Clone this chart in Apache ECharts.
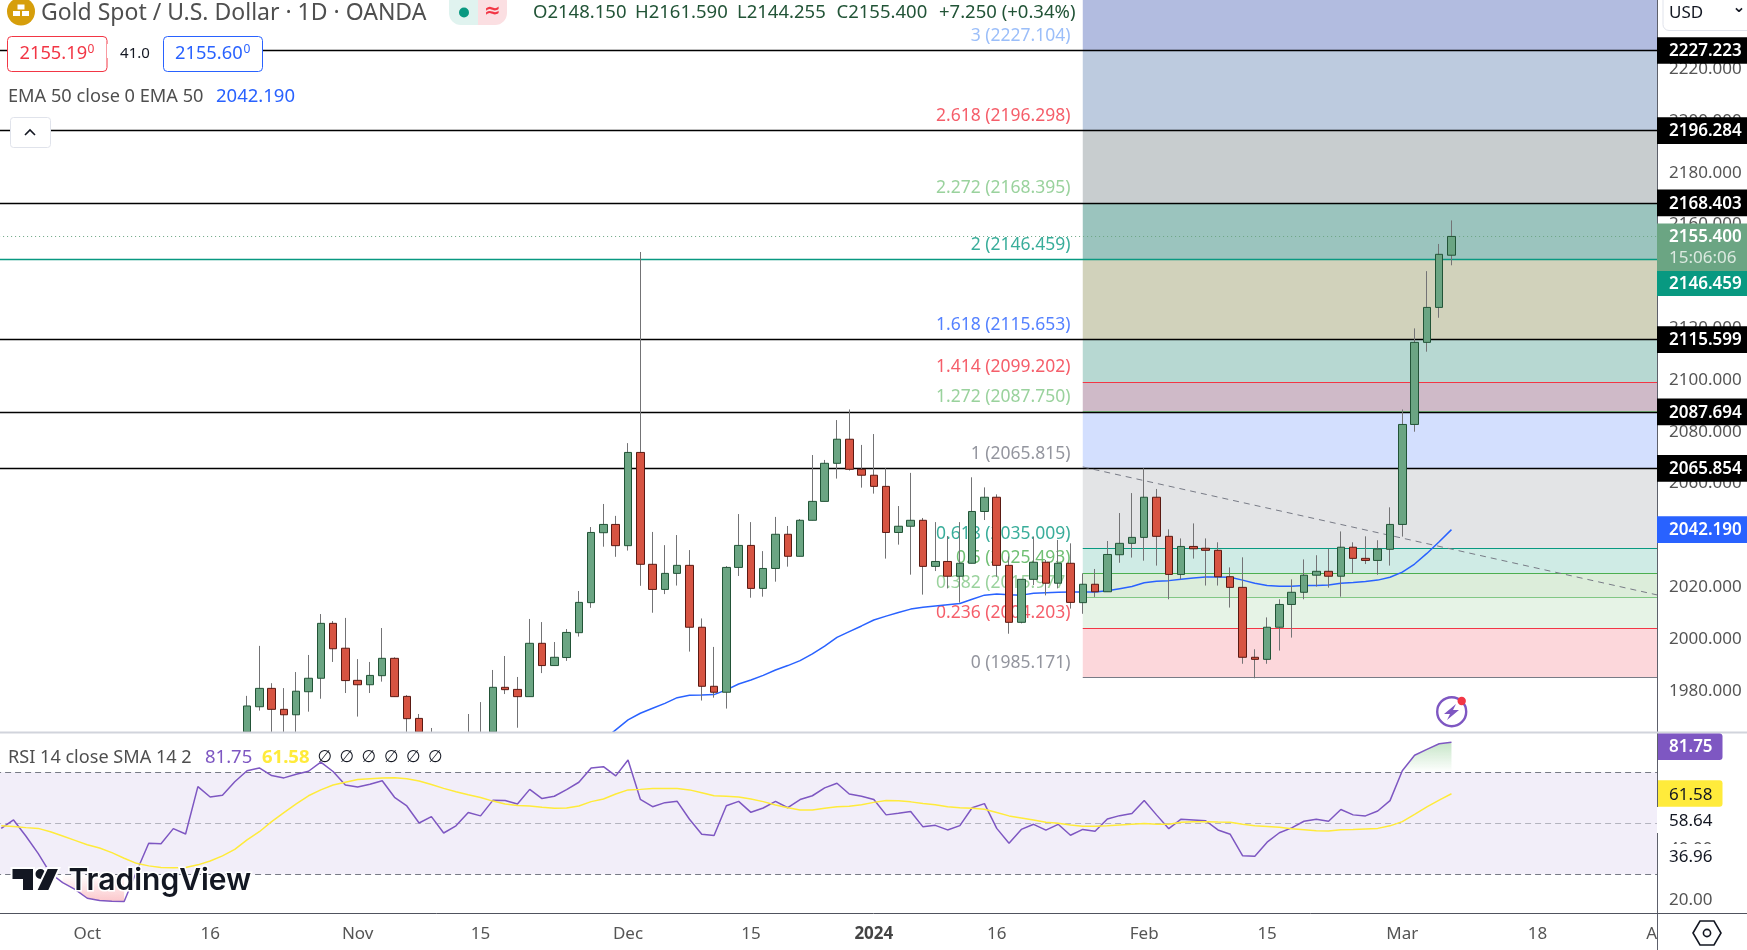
<!DOCTYPE html>
<html>
<head>
<meta charset="utf-8">
<title>Gold Spot / U.S. Dollar</title>
<script src="https://cdn.jsdelivr.net/npm/echarts@6/dist/echarts.min.js"></script>
<style>
html, body { margin: 0; padding: 0; background: #fff; }
#main { width: 1747px; height: 950px; }
</style>
</head>
<body>
<div id="main"></div>
<script>
// trading sessions on the time axis
var sessions = [
  '09-21','09-22','09-25','09-26','09-27','09-28','09-29',
  '10-02','10-03','10-04','10-05','10-06','10-09','10-10','10-11','10-12','10-13','10-16','10-17','10-18','10-19','10-20','10-23','10-24','10-25','10-26','10-27','10-30','10-31',
  '11-01','11-02','11-03','11-06','11-07','11-08','11-09','11-10','11-13','11-14','11-15','11-16','11-17','11-20','11-21','11-22','11-23','11-24','11-27','11-28','11-29','11-30',
  '12-01','12-04','12-05','12-06','12-07','12-08','12-11','12-12','12-13','12-14','12-15','12-18','12-19','12-20','12-21','12-22','12-26','12-27','12-28','12-29',
  '01-02','01-03','01-04','01-05','01-08','01-09','01-10','01-11','01-12','01-15','01-16','01-17','01-18','01-19','01-22','01-23','01-24','01-25','01-26','01-29','01-30','01-31',
  '02-01','02-02','02-05','02-06','02-07','02-08','02-09','02-12','02-13','02-14','02-15','02-16','02-19','02-20','02-21','02-22','02-23','02-26','02-27','02-28','02-29',
  '03-01','03-04','03-05','03-06','03-07','03-08','03-11','03-12','03-13','03-14','03-15','03-18','03-19','03-20','03-21','03-22','03-25','03-26','03-27','03-28','03-29',
  '04-01'
];
var tickDates = ['10-02','10-16','11-01','11-15','12-01','12-15','01-02','01-16','02-01','02-15','03-01','03-18','04-01'];
var tickTexts = ['Oct','16','Nov','15','Dec','15','2024','16','Feb','15','Mar','18','Apr'];
var priceTicks = [1980,2000,2020,2040,2060,2080,2100,2120,2140,2160,2180,2200,2220];
var rsiTicks = [20,40,60,80];

// daily candles, first one is session 20 (10-19)
var firstCandle = 20;
var opens = [
  1958,1973.8,1980.9,1972.8,1970.7,1979.6,1984.8,2006.0,1996.4,1984.0,
  1982.3,1985.8,1992.5,1977.8,1969.3,1958,1955,1957,1950,1958,
  1955,1981.3,1980.5,1977.7,1998.3,1989.7,1992.8,2002.4,2014.0,2041.0,
  2044.2,2036.0,2072.0,2028.8,2019.1,2025.3,2028.4,2004.5,1981.7,1979.4,
  2027.6,2036.1,2019.5,2027.2,2040.4,2031.9,2045.8,2053.1,2067.8,2077.1,
  2065.5,2063.2,2058.9,2041.1,2043.5,2045.8,2028.0,2029.9,2024.2,2029.2,
  2049.2,2054.7,2028.4,2006.4,2023.0,2029.6,2021.5,2029.2,2014.0,2021.1,
  2018.2,2032.5,2036.9,2039.2,2054.7,2039.6,2024.9,2035.7,2035.0,2034.2,
  2024.0,2019.9,1992.9,1992.1,2004.5,2013.3,2018.0,2024.6,2026.1,2024.2,
  2035.4,2031.1,2030.3,2034.6,2044.2,2082.8,2114.5,2128.0,2148.15
];
var closes = [
  1974.1,1980.9,1972.8,1970.7,1979.8,1984.8,2006.0,1996.2,1983.9,1982.3,
  1985.9,1992.5,1977.7,1969.2,1958,1955,1957,1950,1958,1955,
  1981.3,1980.4,1977.7,1998.3,1989.7,1992.9,2002.5,2014.1,2041.1,2044.2,
  2036.0,2072.0,2028.8,2019.1,2025.3,2028.4,2004.5,1981.7,1979.4,2027.6,
  2036.1,2019.5,2027.2,2040.4,2031.9,2045.8,2053.1,2067.8,2077.1,2065.5,
  2063.2,2058.9,2041.1,2043.5,2045.8,2028.0,2029.9,2024.2,2029.2,2049.2,
  2054.7,2028.4,2006.4,2023.0,2029.6,2021.5,2029.2,2014.1,2021.1,2018.2,
  2032.6,2036.9,2039.2,2054.7,2039.6,2024.9,2035.7,2034.8,2034.2,2024.0,
  2019.9,1992.9,1992.1,2004.5,2013.3,2018.0,2024.6,2026.1,2024.2,2035.4,
  2031.1,2030.3,2034.7,2044.2,2082.8,2114.5,2128.0,2148.5,2155.4
];
var lows = [
  1954,1972.3,1960,1958,1958,1971.9,1976.9,1991.1,1979.1,1970.0,
  1979.1,1983.5,1977.7,1960,1954,1950,1951,1948,1947,1950,
  1952,1978.7,1965.7,1977.7,1986.8,1989.7,1991.5,2000.9,2012.0,2035.6,
  2031.7,2034.1,2020.5,2010.1,2017.3,2020.6,1995.1,1976.2,1977.3,1973.1,
  2024.3,2015.9,2016.3,2022.1,2027.9,2031.9,2045.8,2053.1,2061.9,2065.0,
  2058.4,2056.1,2031.0,2036.4,2024.8,2017.1,2026.2,2019.5,2014.0,2029.2,
  2045.9,2024.0,2002.0,2006.0,2020.8,2016.8,2019.5,2011.7,2009.7,2016.2,
  2018.2,2029.4,2031.4,2030.2,2028.3,2015.3,2023.0,2031.0,2020.6,2020.6,
  2012.1,1990.4,1984.8,1990.4,1995.5,2000.5,2015.3,2020.2,2019.8,2016.3,
  2025.3,2028.9,2024.8,2028.3,2039.5,2080.0,2110.9,2124.0,2144.255
];
var highs = [
  1978,1997.3,1982.9,1981.0,1987.2,1993.8,2009.6,2006.9,2008.1,1992.2,
  1991.1,2004.2,1992.9,1978.3,1971.0,1965.6,1962,1961,1971.0,1975.6,
  1988.0,1993.4,1985.3,2007.7,2006.5,1998.8,2003.8,2018.5,2043.2,2052.1,
  2047.5,2075.6,2149.4,2041.3,2036.2,2040.1,2034.3,2007.9,1996.9,2028.1,
  2048.2,2045.1,2033.9,2047.1,2043.6,2046.3,2071.0,2069.1,2084.5,2088.6,
  2074.9,2079.1,2065.9,2051.3,2064.1,2046.7,2045.1,2039.7,2045.1,2062.4,
  2058.5,2055.8,2031.8,2023.0,2039.5,2030.5,2038.2,2036.9,2025.3,2027.0,
  2037.8,2048.6,2056.3,2065.9,2057.9,2042.3,2038.8,2044.6,2038.8,2037.3,
  2027.6,2031.5,1996.0,2008.3,2015.3,2023.0,2030.7,2032.3,2034.8,2041.5,
  2037.3,2039.6,2038.1,2050.8,2088.6,2119.9,2142.0,2152.5,2161.59
];

// EMA 50, first point is session 49
var firstEma = 49;
var emaValues = [
  1961,1964.9,1968.7,1971.3,1973.2,1975.1,1977.3,1978.2,1978.3,1978.5,
  1980.3,1982.6,1984.1,1985.9,1988.0,1989.7,1991.6,1994.2,1997.2,2000.6,
  2002.8,2005.0,2007.3,2008.8,2010.2,2011.5,2012.2,2012.7,2013.2,2013.7,
  2015.3,2016.9,2017.3,2017.0,2016.9,2017.6,2017.8,2018.0,2018.1,2018.1,
  2018.1,2018.6,2019.4,2020.2,2021.7,2022.3,2022.5,2023.0,2023.5,2023.9,
  2023.9,2023.8,2022.7,2021.5,2020.6,2020.3,2020.3,2020.6,2020.6,2020.8,
  2021.5,2021.8,2022.2,2022.7,2023.8,2025.8,2028.9,2033.0,2037.5,2042.19
];

// RSI pane, both from session 0
var rsiValues = [
  48.0,51.3,45.0,38.2,30.4,26.7,24.1,20.6,19.7,19.4,
  19.3,31.0,42.2,42.0,47.9,45.8,64.4,60.3,61.0,66.3,
  70.6,71.7,68.7,67.8,69.2,70.4,74.0,70.3,65.0,64.2,
  65.3,66.7,60.2,56.8,50.1,52.6,46.2,49.0,54.2,52.9,
  59.0,58.9,57.6,63.3,59.7,60.6,63.2,66.1,71.7,72.2,
  68.6,74.8,59.4,56.5,58.1,58.6,51.6,45.7,45.2,56.9,
  58.6,54.3,56.0,58.6,56.1,59.3,60.8,63.9,65.7,61.5,
  60.6,59.3,53.3,53.9,54.6,48.6,49.2,47.4,49.1,56.1,
  57.7,48.0,42.2,47.6,49.6,47.3,49.6,45.3,47.6,46.9,
  51.7,53.0,53.8,58.9,53.3,47.9,51.6,51.3,51.0,47.4,
  45.7,37.3,37.1,42.6,46.3,48.2,50.8,51.6,50.8,55.4,
  53.3,52.9,54.8,58.9,70.6,76.7,79.0,81.2,81.75
];
var rsiSma = [
  49.0,48.7,48.3,48.0,46.7,45.0,43.3,41.6,40.3,38.5,
  36.3,34.3,33.3,32.7,32.6,32.7,33.7,35.2,37.2,39.8,
  43.5,46.7,50.65,54.2,57.6,60.8,63.1,65.0,66.1,67.2,
  67.5,67.8,67.9,67.5,66.6,65.2,63.7,62.4,61.2,60.1,
  58.7,57.6,57.0,56.8,56.3,55.9,56.0,56.8,58.5,59.5,
  61.5,63.1,63.3,63.6,63.6,63.6,63.1,62.0,60.8,60.6,
  60.3,59.5,58.5,57.2,56.1,55.2,55.2,55.9,56.5,56.7,
  57.3,58.2,58.9,58.8,58.4,57.8,57.3,56.5,56.1,55.9,
  55.5,54.2,52.9,52.1,51.3,50.4,50.0,49.3,48.8,48.8,
  49.0,49.3,49.6,49.9,49.6,49.6,50.4,50.65,50.65,50.5,
  50.4,49.6,49.0,48.7,48.4,47.9,47.5,47.1,47.0,47.5,
  47.6,47.8,48.0,49.0,50.65,53.5,56.4,59.1,61.58
];

// fibonacci retracement
var fibLevels = ['0','0.236','0.382','0.5','0.618','1','1.272','1.414','1.618','2','2.272','2.618','3'];
var fibPrices = [1985.171,2004.203,2015.977,2025.493,2035.009,2065.815,2087.750,2099.202,2115.653,2146.459,2168.395,2196.298,2227.104];
var fibColors = ['#787b86','#f23645','#81c784','#4caf50','#089981','#787b86','#81c784','#f23645','#2962ff','#089981','#81c784','#f23645','#82aef8'];
var zoneColors = ['#fcd7db','#e6f3e6','#dcedda','#cfebe5','#e3e4e6','#d3dffe','#cfbac8','#b7d8d2','#d1d2bb','#9bc4be','#c8cdcf','#bdcbdf','#b2bce0'];
var fibStart = '01-25', fibLabelAt = '01-24', axisEnd = '04-01';

// horizontal lines and the tags on the price scale
var blackLines = [2227.223,2196.284,2168.403,2115.599,2087.694,2065.854];
var tealLine = 2146.459, lastClose = 2155.4, lastEma = 2042.19;
var trendFrom = 2066.4, trendTo = 2016.7;
var rsiLast = 81.75, smaLast = 61.58, rsiMid = 58.64, rsiLow = 36.96;
var ohlcTexts = ['O2148.150', 'H2161.590', 'L2144.255', 'C2155.400', '+7.250 (+0.34%)'];

var FONT = '"Noto Sans"';
var priceMin = 1964.05, priceMax = 2246.7;
var rsiMin = 14.82, rsiMax = 85.8;

var chart = echarts.init(document.getElementById('main'), null, { renderer: 'canvas' });

function pad(n, arr) {
  var out = [];
  for (var i = 0; i < n; i++) out.push(null);
  return out.concat(arr);
}
// candlestick does not cut a bar at the pane edge, so hold it at the scale minimum
function floorAt(v) { return Math.max(v, priceMin); }

// wick series keeps the real range, body series only open/close
var wickData = [], bodyData = [];
for (var i = 0; i < firstCandle; i++) {
  wickData.push(['-', '-', '-', '-']);
  bodyData.push(['-', '-', '-', '-']);
}
for (var j = 0; j < opens.length; j++) {
  var o = floorAt(opens[j]), c = floorAt(closes[j]);
  if (highs[j] < priceMin) {
    wickData.push(['-', '-', '-', '-']);
  } else {
    wickData.push([o, c, floorAt(lows[j]), highs[j]]);
  }
  if (Math.max(opens[j], closes[j]) < priceMin) {
    bodyData.push(['-', '-', '-', '-']);
  } else {
    bodyData.push([o, c, Math.min(o, c), Math.max(o, c)]);
  }
}

var zoneData = [], fibLineData = [], fibLabelData = [];
for (var k = 0; k < fibPrices.length; k++) {
  var upper = k < fibPrices.length - 1 ? fibPrices[k + 1] : priceMax;
  zoneData.push([
    { xAxis: fibStart, yAxis: fibPrices[k], itemStyle: { color: zoneColors[k], opacity: 1 } },
    { xAxis: axisEnd, yAxis: upper }
  ]);
  fibLineData.push([
    { xAxis: fibStart, yAxis: fibPrices[k], lineStyle: { color: fibColors[k], width: 1.1, type: 'solid', opacity: 1 } },
    { xAxis: axisEnd, yAxis: fibPrices[k] }
  ]);
  fibLabelData.push({
    value: [fibLabelAt, fibPrices[k]],
    label: { color: fibColors[k], formatter: fibLevels[k] + ' (' + fibPrices[k].toFixed(3) + ')' }
  });
}

var lineData = [];
for (var b = 0; b < blackLines.length; b++) {
  lineData.push({ yAxis: blackLines[b], lineStyle: { color: '#000', width: 1.3, type: 'solid' } });
}
lineData.push({ yAxis: tealLine, lineStyle: { color: '#089981', width: 1.3, type: 'solid' } });
lineData.push({ yAxis: lastClose, lineStyle: { color: '#6ba583', width: 1, type: [1, 3] } });
lineData.push([
  { xAxis: fibStart, yAxis: trendFrom, lineStyle: { color: '#787b86', width: 1, type: [6, 5] } },
  { xAxis: axisEnd, yAxis: trendTo }
]);

var option = {
  animation: false,
  textStyle: { fontFamily: FONT },
  grid: [
    { left: -4.9, top: 0, width: 1671.44, height: 732, outerBoundsMode: 'none' },
    { left: -4.9, top: 732, width: 1671.44, height: 181, outerBoundsMode: 'none' }
  ],
  xAxis: [
    { type: 'category', gridIndex: 0, data: sessions, show: false },
    {
      type: 'category', gridIndex: 1, data: sessions,
      axisLine: { show: false }, axisTick: { show: false }, splitLine: { show: false },
      axisLabel: {
        margin: 13, fontSize: 17, color: '#555', fontFamily: FONT,
        interval: function (index, value) { return tickDates.indexOf(value) >= 0; },
        formatter: function (value) {
          var text = tickTexts[tickDates.indexOf(value)];
          return text === '2024' ? '{b|' + text + '}' : text;
        },
        rich: { b: { fontSize: 17, color: '#444', fontWeight: 'bold', fontFamily: FONT } }
      }
    }
  ],
  yAxis: [
    {
      type: 'value', gridIndex: 0, position: 'right', offset: -9.54, min: priceMin, max: priceMax, z: 40,
      axisLine: { show: false }, axisTick: { show: false }, splitLine: { show: false },
      axisLabel: {
        margin: 12, fontSize: 17, color: '#555', fontFamily: FONT, customValues: priceTicks, padding: [2, 0, 0, 0],
        formatter: function (v) { return v.toFixed(3); }
      }
    },
    {
      type: 'value', gridIndex: 1, position: 'right', offset: -9.54, min: rsiMin, max: rsiMax, z: 40,
      axisLine: { show: false }, axisTick: { show: false }, splitLine: { show: false },
      axisLabel: {
        margin: 12, fontSize: 17, color: '#555', fontFamily: FONT, customValues: rsiTicks, padding: [2, 0, 0, 0],
        formatter: function (v) { return v.toFixed(2); }
      }
    }
  ],
  series: [
    {
      name: 'fib', type: 'scatter', xAxisIndex: 0, yAxisIndex: 0, z: 1, symbolSize: 0, silent: true,
      data: fibLabelData,
      label: { show: true, position: 'left', distance: 0, offset: [0, -14.5], fontSize: 17.5, fontFamily: FONT },
      markArea: { silent: true, z: 1, data: zoneData }
    },
    {
      name: 'levels', type: 'line', xAxisIndex: 0, yAxisIndex: 0, z: 2, data: [], silent: true,
      markLine: { silent: true, z: 2, symbol: 'none', label: { show: false }, data: fibLineData.concat(lineData) }
    },
    {
      name: 'EMA 50', type: 'line', xAxisIndex: 0, yAxisIndex: 0, z: 3, silent: true,
      data: pad(firstEma, emaValues), showSymbol: false, lineStyle: { color: '#2962ff', width: 1.5 }
    },
    {
      name: 'wick', type: 'candlestick', xAxisIndex: 0, yAxisIndex: 0, z: 4, silent: true, barWidth: 1,
      data: wickData,
      itemStyle: { color: '#737375', color0: '#737375', borderColor: '#737375', borderColor0: '#737375', borderWidth: 1 }
    },
    {
      name: 'candle', type: 'candlestick', xAxisIndex: 0, yAxisIndex: 0, z: 5, silent: true, barWidth: 8,
      data: bodyData,
      itemStyle: { color: '#6ba583', color0: '#d75442', borderColor: '#225437', borderColor0: '#5b1a13', borderWidth: 1 }
    },
    {
      name: 'RSI', type: 'line', xAxisIndex: 1, yAxisIndex: 1, z: 3, silent: true,
      data: rsiValues, showSymbol: false, lineStyle: { color: '#7e57c2', width: 1.5 },
      markArea: { silent: true, z: 1, itemStyle: { color: 'rgba(126,87,194,0.1)' }, data: [[{ yAxis: 30 }, { yAxis: 70 }]] },
      markLine: {
        silent: true, z: 2, symbol: 'none', label: { show: false },
        lineStyle: { color: '#787b86', width: 1, type: [6, 4] },
        data: [
          { yAxis: 70 },
          { yAxis: 50, lineStyle: { color: 'rgba(120,123,134,0.5)', width: 1, type: [6, 4] } },
          { yAxis: 30 }
        ]
      }
    },
    {
      name: 'RSI SMA', type: 'line', xAxisIndex: 1, yAxisIndex: 1, z: 3, silent: true,
      data: rsiSma, showSymbol: false, lineStyle: { color: '#ffeb3b', width: 1.5 }
    },
    {
      name: 'overbought', type: 'line', xAxisIndex: 1, yAxisIndex: 1, z: 2, silent: true, showSymbol: false,
      data: pad(114, rsiValues.slice(114)), lineStyle: { width: 0 },
      areaStyle: {
        origin: 70,
        color: new echarts.graphic.LinearGradient(0, 0, 0, 1, [
          { offset: 0, color: 'rgba(76,175,80,0.45)' }, { offset: 1, color: 'rgba(76,175,80,0)' }
        ])
      }
    },
    {
      name: 'oversold', type: 'line', xAxisIndex: 1, yAxisIndex: 1, z: 2, silent: true, showSymbol: false,
      data: pad(5, rsiValues.slice(5, 11)), lineStyle: { width: 0 },
      areaStyle: {
        origin: 30,
        color: new echarts.graphic.LinearGradient(0, 1, 0, 0, [
          { offset: 0, color: 'rgba(242,54,69,0.4)' }, { offset: 1, color: 'rgba(242,54,69,0)' }
        ])
      }
    }
  ]
};
chart.setOption(option);

// chrome around the chart: header, price tags, logo
function box(x, y, w, h, fill, z, stroke, r) {
  return {
    type: 'rect', z: z, silent: true,
    shape: { x: x, y: y, width: w, height: h, r: r || 0 },
    style: { fill: fill, stroke: stroke || null, lineWidth: stroke ? 1 : 0 }
  };
}
function label(text, x, y, size, fill, z, align, weight, family) {
  return {
    type: 'text', z: z, silent: true, x: x, y: y,
    style: {
      text: text, fill: fill, textAlign: align || 'left', textVerticalAlign: 'middle',
      font: (weight || 'normal') + ' ' + size + 'px ' + (family || FONT)
    }
  };
}
function rule(x1, y1, x2, y2, color, width, z) {
  return {
    type: 'line', z: z, silent: true,
    shape: { x1: x1, y1: y1, x2: x2, y2: y2 },
    style: { stroke: color, lineWidth: width }
  };
}
function priceY(v) { return chart.convertToPixel({ yAxisIndex: 0 }, v); }
function rsiY(v) { return chart.convertToPixel({ yAxisIndex: 1 }, v); }

var items = [];
// price scale background and pane borders
items.push(box(1657, 0, 90, 950, '#fff', 30));
items.push(rule(1657.5, 0, 1657.5, 950, '#5d606b', 1, 35));
items.push(rule(0, 732.5, 1747, 732.5, '#d1d4dc', 2, 36));
items.push(rule(0, 913.5, 1747, 913.5, '#50535e', 1, 36));

// price tags
blackLines.forEach(function (v) {
  var y = priceY(v);
  items.push(box(1657, y - 13.3, 90, 26.7, '#000', 50));
  items.push(label(v.toFixed(3), 1669, y + 1, 17, '#fff', 51, 'left', '600'));
});
var lastY = priceY(lastClose);
items.push(box(1657, lastY - 13, 90, 48, '#6ba583', 50));
items.push(label(lastClose.toFixed(3), 1669, lastY + 1, 17, '#fff', 51, 'left', '600'));
items.push(label('15:06:06', 1669, lastY + 22, 17, '#dbe9e0', 51));
items.push(box(1657, 271, 90, 25, '#089981', 50));
items.push(label(tealLine.toFixed(3), 1669, 284, 17, '#fff', 51, 'left', '600'));
items.push(box(1657, priceY(lastEma) - 13.3, 90, 26.7, '#2962ff', 50));
items.push(label(lastEma.toFixed(3), 1669, priceY(lastEma) + 1, 17, '#fff', 51, 'left', '600'));

// RSI tags
items.push(box(1658, 733.5, 64.5, 26.5, '#7e57c2', 50, null, [0, 3, 3, 0]));
items.push(label(rsiLast.toFixed(2), 1669, 747.5, 17, '#fff', 51, 'left', '600'));
items.push(box(1658, rsiY(smaLast) - 13.4, 64.5, 26.5, '#ffeb3b', 50, null, [0, 3, 3, 0]));
items.push(label(smaLast.toFixed(2), 1669, rsiY(smaLast) + 1, 17, '#131722', 51));
items.push(box(1657, 807, 65, 26, '#fff', 50));
items.push(label(rsiMid.toFixed(2), 1669, 821, 17, '#131722', 51));
items.push(box(1658, 844, 64.5, 26, '#fff', 50));
items.push(label(rsiLow.toFixed(2), 1669, rsiY(rsiLow) + 1, 17, '#131722', 51));

// currency box and settings icon
items.push(box(1663, -8, 92, 38.5, '#fff', 60, '#e0e3eb', 6));
items.push(label('USD', 1669, 13, 17, '#131722', 61));
items.push(label('\u2304', 1739, 8, 16, '#131722', 61, 'center', 'bold', '"DejaVu Sans"'));
items.push({
  type: 'polygon', z: 60, silent: true,
  shape: { points: [[1693, 933], [1700, 921], [1714, 921], [1721, 933], [1714, 945], [1700, 945]] },
  style: { fill: '#fff', stroke: '#131722', lineWidth: 1.6 }
});
items.push({
  type: 'circle', z: 61, silent: true, shape: { cx: 1707, cy: 933, r: 3.6 },
  style: { fill: '#fff', stroke: '#131722', lineWidth: 1.6 }
});

// header, gold icon
items.push({ type: 'circle', z: 60, silent: true, shape: { cx: 21, cy: 11.5, r: 14 }, style: { fill: '#d69e0b' } });
items.push(box(17.5, 4.5, 7, 5, '#fff', 61));
items.push(box(13, 11, 7, 5, '#fff', 61));
items.push(box(22, 11, 7, 5, '#fff', 61));
items.push(label('Gold Spot / U.S. Dollar \u00b7 1D \u00b7 OANDA', 41, 13, 23, '#4f4f4f', 60));
// status pill
items.push(box(449, -10, 29, 35, '#e0f3ef', 60, null, [12, 0, 0, 12]));
items.push(box(478, -10, 29, 35, '#fbdfe2', 60, null, [0, 12, 12, 0]));
items.push({ type: 'circle', z: 61, silent: true, shape: { cx: 464, cy: 12.5, r: 5 }, style: { fill: '#089981' } });
items.push(label('\u2248', 492.5, 12, 20, '#f23645', 61, 'center', 'bold', '"DejaVu Sans"'));
[533, 635, 737, 836.5, 939].forEach(function (x, n) {
  items.push(label(ohlcTexts[n], x, 13, 18.5, '#225437', 60));
});

// bid / ask
items.push(box(7.5, 36.5, 99.5, 35, '#fff', 60, '#f23645', 4));
items.push(label('2155.19', 19.5, 54, 18.3, '#f23645', 61));
items.push(label('0', 87.5, 50, 12, '#f23645', 61));
items.push(box(107, 44, 57, 14, '#fff', 60));
items.push(label('41.0', 135, 54, 15, '#131722', 61, 'center'));
items.push(box(163.5, 36.5, 99, 35, '#fff', 60, '#2962ff', 4));
items.push(label('2155.60', 175, 54, 18.3, '#2962ff', 61));
items.push(label('0', 243.5, 50, 12, '#2962ff', 61));
items.push(label('EMA 50 close 0 EMA 50', 8, 96.5, 18.2, '#4f4f4f', 60));
items.push(label(lastEma.toFixed(3), 216, 96.5, 18.5, '#2962ff', 60));
items.push(box(10.5, 117.5, 40, 30, '#fff', 60, '#e0e3eb', 3));
items.push({
  type: 'polyline', z: 61, silent: true,
  shape: { points: [[25, 135], [30, 130], [35, 135]] },
  style: { fill: null, stroke: '#131722', lineWidth: 1.6 }
});

// RSI legend
items.push(label('RSI 14 close SMA 14 2', 8, 758, 18.1, '#4f4f4f', 60));
items.push(label(rsiLast.toFixed(2), 205, 758, 18.5, '#7e57c2', 60));
items.push(label(smaLast.toFixed(2), 262, 758, 18.5, '#ffeb3b', 60, 'left', 'bold'));
[325, 347, 369, 391.5, 413.5, 435.5].forEach(function (x) {
  items.push(label('\u2205', x, 758, 17, '#131722', 60, 'center', 'normal', '"DejaVu Sans"'));
});

// TradingView logo
var logoZ = 62;
items.push({
  type: 'polygon', z: logoZ, silent: true,
  shape: { points: [[11.5, 868], [34, 868], [34, 891], [22, 891], [22, 880], [11.5, 880]] },
  style: { fill: '#131722', stroke: '#fff', lineWidth: 2 }
});
items.push({
  type: 'circle', z: logoZ, silent: true, shape: { cx: 40.5, cy: 874, r: 6 },
  style: { fill: '#131722', stroke: '#fff', lineWidth: 2 }
});
items.push({
  type: 'polygon', z: logoZ, silent: true,
  shape: { points: [[47, 868], [59.5, 868], [49, 891], [36, 891]] },
  style: { fill: '#131722', stroke: '#fff', lineWidth: 2 }
});
items.push({
  type: 'text', z: logoZ, silent: true, x: 68.5, y: 881,
  style: {
    text: 'TradingView', fill: '#131722', stroke: '#fff', lineWidth: 3, textAlign: 'left', textVerticalAlign: 'middle',
    font: '600 30px Inter'
  }
});

// flash icon on the last bar
items.push({
  type: 'circle', z: 40, silent: true, shape: { cx: 1451.7, cy: 711.7, r: 14.5 },
  style: { fill: '#fff', stroke: '#7e57c2', lineWidth: 2.4 }
});
items.push({
  type: 'polygon', z: 41, silent: true,
  shape: { points: [[1456, 704], [1444, 714], [1450, 714], [1447, 720], [1459, 710], [1453, 710]] },
  style: { fill: '#7e57c2' }
});
items.push({ type: 'circle', z: 42, silent: true, shape: { cx: 1461.7, cy: 701, r: 4.2 }, style: { fill: '#f23645' } });

chart.setOption({ graphic: { elements: items } });
</script>
</body>
</html>
